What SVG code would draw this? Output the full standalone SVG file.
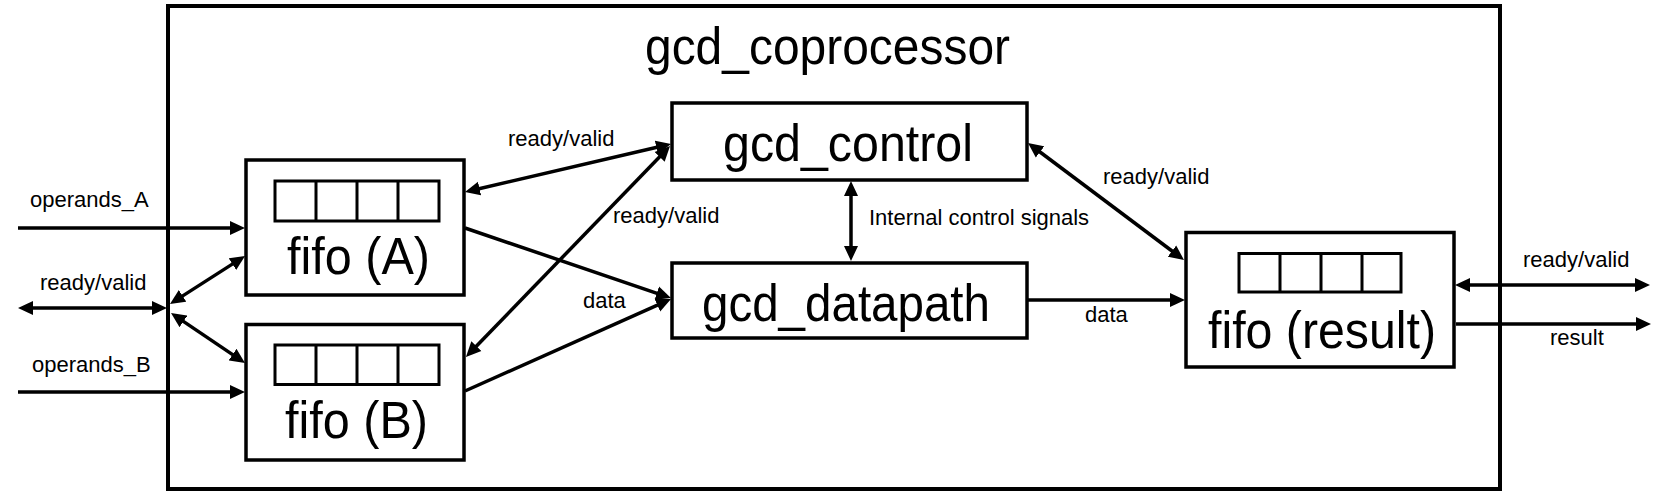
<svg xmlns="http://www.w3.org/2000/svg" width="1670" height="494" viewBox="0 0 1670 494">
<style>
.box{fill:#fff;stroke:#000;stroke-width:3.5}
.reg{fill:none;stroke:#000;stroke-width:3}
.big{font-family:"Liberation Sans",Arial,sans-serif;font-size:52px;fill:#000}
.lbl{font-family:"Liberation Sans",Arial,sans-serif;font-size:22px;fill:#000}
.c{fill:none;stroke:#000;stroke-width:3.5}
.a2{marker-start:url(#ah);marker-end:url(#ah)}
.a1{marker-end:url(#ah)}
</style>
<defs>
<marker id="ah" markerUnits="userSpaceOnUse" markerWidth="16" markerHeight="15" viewBox="0 0 16 15" refX="5" refY="7.5" orient="auto-start-reverse">
<path d="M0,0.5 L15,7.5 L0,14.5 z" fill="#000"/>
</marker>
</defs>
<rect width="1670" height="494" fill="#fff"/>
<g id="gcd_coprocessor">
<rect x="168" y="6" width="1332" height="483" fill="none" stroke="#000" stroke-width="4"/>
<text class="big" x="645" y="64" textLength="365" lengthAdjust="spacingAndGlyphs">gcd_coprocessor</text>
</g>
<g id="fifo_A">
<rect class="box" x="246" y="160" width="218" height="135"/>
<rect class="reg" x="275" y="181" width="164" height="40"/>
<path class="reg" d="M316,181V221M357,181V221M398,181V221"/>
<text class="big" x="287" y="274" textLength="143" lengthAdjust="spacingAndGlyphs">fifo (A)</text>
</g>
<g id="fifo_B">
<rect class="box" x="246" y="324.5" width="218" height="135.5"/>
<rect class="reg" x="275" y="345" width="164" height="39.5"/>
<path class="reg" d="M316,345V384.5M357,345V384.5M398,345V384.5"/>
<text class="big" x="285" y="438" textLength="143" lengthAdjust="spacingAndGlyphs">fifo (B)</text>
</g>
<g id="gcd_control">
<rect class="box" x="672" y="103" width="355" height="77"/>
<text class="big" x="723" y="161" textLength="250" lengthAdjust="spacingAndGlyphs">gcd_control</text>
</g>
<g id="gcd_datapath">
<rect class="box" x="672" y="263" width="355" height="75"/>
<text class="big" x="702" y="321" textLength="288" lengthAdjust="spacingAndGlyphs">gcd_datapath</text>
</g>
<g id="fifo_result">
<rect class="box" x="1186" y="232.5" width="268" height="134.5"/>
<rect class="reg" x="1239" y="253.5" width="162" height="38.5"/>
<path class="reg" d="M1280,253.5V292M1321,253.5V292M1362,253.5V292"/>
<text class="big" x="1208" y="348" textLength="228" lengthAdjust="spacingAndGlyphs">fifo (result)</text>
</g>
<g id="connectors">
<line class="c a1" x1="18" y1="228" x2="235" y2="228"/>
<line class="c a1" x1="18" y1="392" x2="235" y2="392"/>
<line class="c a2" x1="28" y1="308" x2="157" y2="308"/>
<line class="c a2" x1="178.4" y1="298.6" x2="236.6" y2="261.4"/>
<line class="c a2" x1="179.3" y1="318.6" x2="236.7" y2="357.4"/>
<line class="c a2" x1="474.7" y1="189.7" x2="661.3" y2="146.3"/>
<line class="c a2" x1="472.9" y1="349.8" x2="663.1" y2="153.2"/>
<line class="c a1" x1="465" y1="228" x2="661.5" y2="294.8"/>
<line class="c a1" x1="465" y1="391" x2="661.9" y2="303.1"/>
<line class="c a2" x1="851" y1="191" x2="851" y2="251"/>
<line class="c a2" x1="1036" y1="149" x2="1176" y2="254"/>
<line class="c a1" x1="1027" y1="300" x2="1175" y2="300"/>
<line class="c a2" x1="1465" y1="285" x2="1640" y2="285"/>
<line class="c a1" x1="1456" y1="324" x2="1641" y2="324"/>
<text class="lbl" x="30" y="207">operands_A</text>
<text class="lbl" x="40" y="290">ready/valid</text>
<text class="lbl" x="32" y="372">operands_B</text>
<text class="lbl" x="508" y="146">ready/valid</text>
<text class="lbl" x="613" y="223">ready/valid</text>
<text class="lbl" x="583" y="308">data</text>
<text class="lbl" x="869" y="225">Internal control signals</text>
<text class="lbl" x="1103" y="184">ready/valid</text>
<text class="lbl" x="1085" y="322">data</text>
<text class="lbl" x="1523" y="267">ready/valid</text>
<text class="lbl" x="1550" y="345">result</text>
</g>
</svg>
